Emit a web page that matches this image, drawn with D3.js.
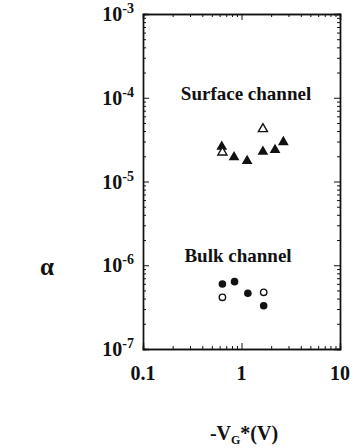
<!DOCTYPE html>
<html>
<head>
<meta charset="utf-8">
<script src="https://cdn.jsdelivr.net/npm/d3@7"></script>
<style>
  body { margin: 0; background: #fff; }
  text { font-family: "Liberation Serif", "DejaVu Serif", serif; font-weight: bold; fill: #111; }
</style>
</head>
<body>
<div id="chart"></div>
<script>
// data
const surfaceFilledX = [0.63, 0.84, 1.14, 1.65, 2.19, 2.66];
const surfaceFilledY = [2.6e-5, 1.95e-5, 1.76e-5, 2.27e-5, 2.38e-5, 2.96e-5];
const surfaceOpenX = [0.64, 1.65];
const surfaceOpenY = [2.23e-5, 4.24e-5];
const bulkFilledX = [0.64, 0.85, 1.16, 1.68];
const bulkFilledY = [5.97e-7, 6.37e-7, 4.63e-7, 3.29e-7];
const bulkOpenX = [0.64, 1.68];
const bulkOpenY = [4.14e-7, 4.75e-7];
const xTicks = [0.1, 1, 10];
const xTickLabels = ["0.1", "1", "10"];
const yTicks = [1e-7, 1e-6, 1e-5, 1e-4, 1e-3];
const yTickExps = ["-7", "-6", "-5", "-4", "-3"];

const width = 354, height = 448;
const margin = { top: 14, left: 143, bottom: 99, right: 14 };
const iwidth = width - margin.left - margin.right;
const iheight = height - margin.top - margin.bottom;

const svg = d3.select("#chart").append("svg")
  .attr("width", width).attr("height", height);
const g = svg.append("g").attr("transform", `translate(${margin.left},${margin.top})`);

const x = d3.scaleLog().domain([0.1, 10]).range([0, iwidth]);
const y = d3.scaleLog().domain([1e-7, 1e-3]).range([iheight, 0]);

// minor ticks
const xMinor = [];
for (const d of [0.1, 1]) for (let k = 2; k <= 9; k++) xMinor.push(d * k);
const yMinor = [];
for (const d of [1e-7, 1e-6, 1e-5, 1e-4]) for (let k = 2; k <= 9; k++) yMinor.push(d * k);

function tickAxis(axisFn, scale, major, minor) {
  return (sel) => {
    sel.call(axisFn(scale).tickValues(minor).tickSize(-3).tickFormat(""));
    sel.append("g").call(axisFn(scale).tickValues(major).tickSize(-6).tickFormat(""));
    sel.selectAll(".domain").attr("stroke", "#111").attr("stroke-width", 1.4);
    sel.selectAll(".tick line").attr("stroke", "#111").attr("stroke-width", 1);
  };
}

g.append("g").attr("transform", `translate(0,${iheight})`).call(tickAxis(d3.axisBottom, x, xTicks, xMinor));
g.append("g").call(tickAxis(d3.axisTop, x, xTicks, xMinor));
g.append("g").call(tickAxis(d3.axisLeft, y, yTicks, yMinor));
g.append("g").attr("transform", `translate(${iwidth},0)`).call(tickAxis(d3.axisRight, y, yTicks, yMinor));

// tick labels
g.selectAll(".xlab").data(xTicks).enter().append("text")
  .attr("x", (d) => x(d)).attr("y", iheight + 31)
  .attr("text-anchor", "middle").style("font-size", "20px")
  .text((d, i) => xTickLabels[i]);

const yl = g.selectAll(".ylab").data(yTicks).enter().append("text")
  .attr("x", -9).attr("y", (d) => y(d) + 7)
  .attr("text-anchor", "end").style("font-size", "20px");
yl.append("tspan").text("10");
yl.append("tspan").attr("dy", -8).style("font-size", "14px").text((d, i) => yTickExps[i]);

// markers
const tri = d3.symbol().type(d3.symbolTriangle).size(50);
const pts = (xs, ys) => xs.map((v, i) => [v, ys[i]]);

g.selectAll(".sf").data(pts(surfaceFilledX, surfaceFilledY)).enter().append("path")
  .attr("d", tri).attr("transform", (d) => `translate(${x(d[0])},${y(d[1])})`)
  .attr("fill", "#111");
g.selectAll(".so").data(pts(surfaceOpenX, surfaceOpenY)).enter().append("path")
  .attr("d", d3.symbol().type(d3.symbolTriangle).size(36))
  .attr("transform", (d) => `translate(${x(d[0])},${y(d[1])})`)
  .attr("fill", "#fff").attr("stroke", "#111").attr("stroke-width", 1.4);
g.selectAll(".bf").data(pts(bulkFilledX, bulkFilledY)).enter().append("circle")
  .attr("cx", (d) => x(d[0])).attr("cy", (d) => y(d[1])).attr("r", 3.8)
  .attr("fill", "#111");
g.selectAll(".bo").data(pts(bulkOpenX, bulkOpenY)).enter().append("circle")
  .attr("cx", (d) => x(d[0])).attr("cy", (d) => y(d[1])).attr("r", 3.2)
  .attr("fill", "#fff").attr("stroke", "#111").attr("stroke-width", 1.4);

// annotations
svg.append("text").attr("x", 246).attr("y", 100).attr("text-anchor", "middle")
  .style("font-size", "19px").text("Surface channel");
svg.append("text").attr("x", 238).attr("y", 262).attr("text-anchor", "middle")
  .style("font-size", "19px").text("Bulk channel");

// axis titles
svg.append("text").attr("x", 47).attr("y", 275).attr("text-anchor", "middle")
  .style("font-size", "25px").text("α");
const xt = svg.append("text").attr("x", 244).attr("y", 440).attr("text-anchor", "middle")
  .style("font-size", "20px");
xt.append("tspan").text("-V");
xt.append("tspan").attr("dy", 4).style("font-size", "12px").text("G");
xt.append("tspan").attr("dy", -4).text("*(V)");
</script>
</body>
</html>
